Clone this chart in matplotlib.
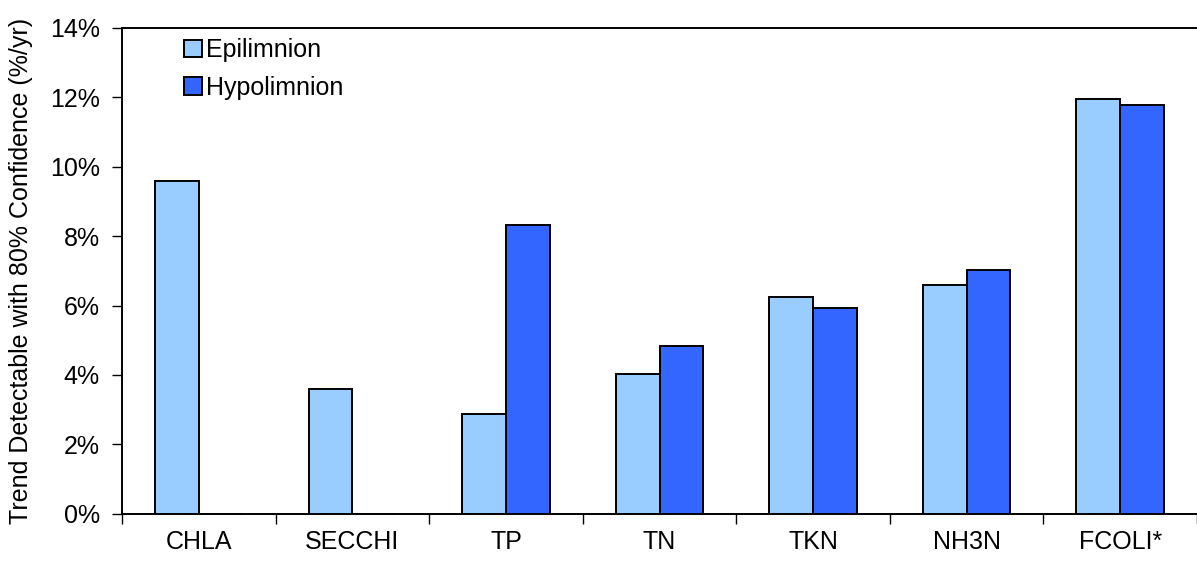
import numpy as np
import matplotlib
matplotlib.use("Agg")
import matplotlib.pyplot as plt
from matplotlib.ticker import FuncFormatter

plt.rcParams['font.family'] = ['Liberation Sans', 'DejaVu Sans']

# values (percent per year)
categories = ['CHLA', 'SECCHI', 'TP', 'TN', 'TKN', 'NH3N', 'FCOLI*']
epilimnion = [9.6, 3.6, 2.87, 4.03, 6.25, 6.58, 11.96]
hypolimnion = [0.0, 0.0, 8.32, 4.84, 5.93, 7.03, 11.79]
y_ticks = [0, 2, 4, 6, 8, 10, 12, 14]

fig = plt.figure(figsize=(11.97, 5.69), dpi=100)
ax = fig.add_axes([0.102, 0.097, 0.898, 0.854])

x = np.arange(len(categories))
w = 0.285
ax.bar(x - w / 2, epilimnion, w, color='#99CCFF', edgecolor='black',
       linewidth=1.4, label='Epilimnion', zorder=3)
ax.bar(x + w / 2, hypolimnion, w, color='#3366FF', edgecolor='black',
       linewidth=1.4, label='Hypolimnion', zorder=3)

ax.set_xlim(-0.5, len(categories) - 0.5)
ax.set_ylim(0, 14)

# category labels centred, tick marks on the group boundaries
ax.set_xticks(x)
ax.set_xticklabels(categories, fontsize=18)
ax.tick_params(axis='x', which='major', length=0, pad=12)
ax.set_xticks(np.arange(-0.5, len(categories) + 0.5, 1), minor=True)
ax.tick_params(axis='x', which='minor', length=7, width=1, direction='out')

ax.set_yticks(y_ticks)
ax.yaxis.set_major_formatter(FuncFormatter(lambda v, p: f'{v:.0f}%'))
ax.tick_params(axis='y', length=7, width=1, direction='out', labelsize=18, pad=9)

ax.set_ylabel('Trend Detectable with 80% Confidence (%/yr)', fontsize=18)
ax.yaxis.set_label_coords(-0.083, 0.5)

for s in ['top', 'bottom', 'left']:
    ax.spines[s].set_linewidth(1.4)
ax.spines['right'].set_visible(False)

ax.legend(loc='upper left', bbox_to_anchor=(0.044, 1.01), frameon=False,
          fontsize=18, handlelength=0.7, handleheight=0.7,
          handletextpad=0.15, labelspacing=0.55, borderaxespad=0.2)

fig.savefig('out.png', dpi=100)
